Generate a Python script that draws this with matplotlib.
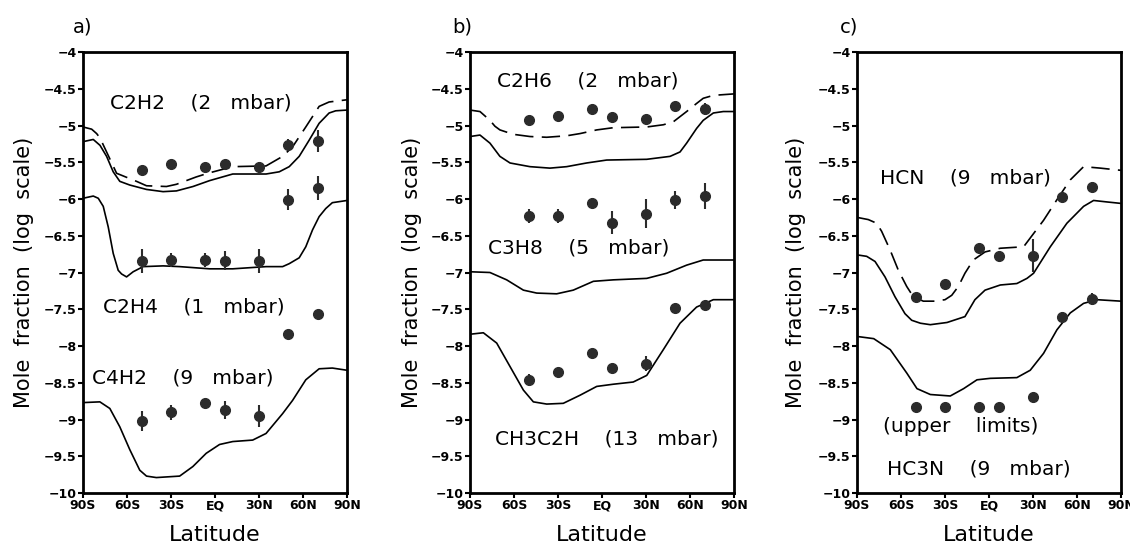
import matplotlib
matplotlib.use("Agg")
import matplotlib.pyplot as plt

# observed latitudes (same for every species)
lat_obs = [-50, -30, -7, 7, 30, 50, 70]

xticks = [-90, -60, -30, 0, 30, 60, 90]
xtick_labels = ['90S', '60S', '30S', 'EQ', '30N', '60N', '90N']
yticks = [-4, -4.5, -5, -5.5, -6, -6.5, -7, -7.5, -8, -8.5, -9, -9.5, -10]
ytick_labels = ['\u22124', '\u22124.5', '\u22125', '\u22125.5', '\u22126', '\u22126.5', '\u22127',
                '\u22127.5', '\u22128', '\u22128.5', '\u22129', '\u22129.5', '\u221210']

# ---- panel a
c2h2_obs = [-5.60, -5.53, -5.57, -5.53, -5.57, -5.27, -5.21]
c2h2_err = [0.0, 0.0, 0.05, 0.0, 0.08, 0.08, 0.15]
c2h4_obs = [-6.84, -6.83, -6.83, -6.84, -6.84, -6.01, -5.85]
c2h4_err = [0.16, 0.10, 0.10, 0.13, 0.16, 0.14, 0.16]
c4h2_obs = [-9.02, -8.90, -8.77, -8.87, -8.95, -7.83, -7.57]
c4h2_err = [0.14, 0.10, 0.0, 0.12, 0.15, 0.0, 0.0]

c2h2_lat = [-90, -83, -78.4, -73.9, -69.4, -64.9, -58.1, -46.7, -35.4, -26.3, -15, -3.7,
            12.1, 34.8, 43.8, 50.6, 57.4, 64.2, 71, 77.8, 82.3, 90]
c2h2_mod = [-5.22, -5.19, -5.27, -5.42, -5.63, -5.76, -5.81, -5.87, -5.90, -5.89, -5.83, -5.75,
            -5.66, -5.66, -5.63, -5.56, -5.42, -5.20, -4.97, -4.83, -4.80, -4.79]
c2h2_dash_lat = [-90, -84.1, -80.7, -78.4, -72.5, -67.1, -53.5, -46.7, -33.1, -26.3, -12.8, -4.9,
                 12.1, 34.8, 46.1, 52.9, 61.9, 71, 77.8, 90]
c2h2_dash = [-5.02, -5.05, -5.11, -5.17, -5.42, -5.65, -5.76, -5.82, -5.83, -5.80, -5.70, -5.65,
             -5.56, -5.55, -5.42, -5.29, -5.02, -4.74, -4.68, -4.65]
c2h4_lat = [-90, -83, -79.6, -76.2, -72.8, -69.4, -66, -63.7, -60.3, -55.8, -49, -35.4, -24.1,
            -3.7, 12.1, 34.8, 46.1, 50.6, 57.4, 61.9, 66.5, 71, 75.5, 80, 90]
c2h4_mod = [-5.99, -5.96, -5.99, -6.10, -6.38, -6.74, -6.97, -7.02, -7.06, -6.99, -6.92, -6.91, -6.92,
            -6.95, -6.95, -6.92, -6.92, -6.88, -6.80, -6.65, -6.42, -6.24, -6.13, -6.05, -6.02]
c4h2_lat = [-90, -78.5, -71.7, -64.9, -58.1, -51.3, -46.7, -40, -24.1, -15.1, -6, 3.1, 12.1,
            25.7, 34.8, 46.1, 52.9, 61.9, 71, 80, 90]
c4h2_mod = [-8.77, -8.76, -8.85, -9.10, -9.41, -9.69, -9.77, -9.79, -9.77, -9.64, -9.46, -9.34, -9.30,
            -9.28, -9.19, -8.92, -8.74, -8.46, -8.31, -8.30, -8.33]

# ---- panel b
c2h6_obs = [-4.93, -4.87, -4.78, -4.89, -4.91, -4.73, -4.78]
c2h6_err = [0.0, 0.0, 0.0, 0.0, 0.05, 0.0, 0.08]
c3h8_obs = [-6.23, -6.23, -6.05, -6.32, -6.20, -6.01, -5.96]
c3h8_err = [0.10, 0.10, 0.07, 0.15, 0.20, 0.12, 0.18]
ch3c2h_obs = [-8.46, -8.35, -8.10, -8.30, -8.24, -7.48, -7.44]
ch3c2h_err = [0.08, 0.05, 0.0, 0.06, 0.10, 0.0, 0.0]

c2h6_dash_lat = [-90, -83.2, -76.4, -73, -69.6, -60.5, -49.1, -37.7, -24.1, -15, -3.6, 7.7,
                 30.5, 41.8, 48.6, 57.7, 64.5, 69, 75.9, 90]
c2h6_dash = [-4.79, -4.81, -4.93, -5.01, -5.06, -5.12, -5.15, -5.16, -5.14, -5.11, -5.06, -5.03,
             -5.02, -4.99, -4.95, -4.81, -4.70, -4.63, -4.59, -4.57]
c2h6_lat = [-90, -83.2, -76.4, -69.6, -62.7, -49.1, -35.5, -24.1, -10.5, 3.2, 30.5, 46.4,
            53.2, 57.7, 64.5, 69, 75.9, 82.7, 90]
c2h6_mod = [-5.15, -5.13, -5.24, -5.42, -5.51, -5.56, -5.58, -5.56, -5.51, -5.47, -5.46, -5.42,
            -5.36, -5.24, -5.04, -4.93, -4.83, -4.81, -4.81]
c3h8_lat = [-90, -76.4, -65, -53.6, -44.5, -30.9, -19.6, -5.9, 7.7, 30.5, 44.1, 57.7, 69, 90]
c3h8_mod = [-6.99, -7.00, -7.10, -7.24, -7.28, -7.29, -7.24, -7.12, -7.10, -7.08, -7.01, -6.90,
            -6.83, -6.83]
ch3c2h_lat = [-90, -80.9, -71.8, -62.7, -53.6, -46.8, -37.7, -26.4, -15, -3.6, 7.7, 21.3, 30.5,
              41.8, 53.2, 64.5, 75.9, 90]
ch3c2h_mod = [-7.84, -7.82, -7.96, -8.28, -8.60, -8.76, -8.79, -8.78, -8.67, -8.55, -8.52, -8.49,
              -8.40, -8.05, -7.69, -7.47, -7.37, -7.37]

# ---- panel c
hcn_obs = [-7.33, -7.16, -6.66, -6.77, -6.77, -5.97, -5.84]
hcn_err = [0.0, 0.0, 0.0, 0.0, 0.22, 0.05, 0.07]
hc3n_obs = [-8.83, -8.83, -8.83, -8.83, -8.70, -7.61, -7.36]
hc3n_err = [0.0, 0.0, 0.0, 0.0, 0.0, 0.07, 0.08]

hcn_dash_lat = [-90, -82.3, -76.6, -73.2, -67.5, -61.8, -56.1, -51.6, -44.8, -36.8, -30, -25.4,
                -20.9, -16.4, -10.7, -2.7, 7.7, 23.6, 30.4, 37.2, 46.3, 55.4, 64.5, 75.9, 90]
hcn_dash = [-6.25, -6.28, -6.33, -6.44, -6.69, -6.97, -7.19, -7.33, -7.39, -7.39, -7.37, -7.31,
            -7.19, -7.01, -6.83, -6.72, -6.67, -6.65, -6.47, -6.29, -6.01, -5.74, -5.56, -5.58, -5.61]
hcn_lat = [-90, -83.4, -77.7, -70.9, -64.1, -57.3, -52.7, -46.8, -40, -28.6, -16.4, -9.6, -2.7,
           7.7, 19, 25.9, 30.4, 41.8, 53.1, 64.5, 71.3, 80.4, 90]
hcn_mod = [-6.76, -6.78, -6.85, -7.06, -7.33, -7.56, -7.65, -7.69, -7.71, -7.68, -7.60, -7.37, -7.24,
           -7.17, -7.15, -7.08, -7.01, -6.65, -6.33, -6.10, -6.02, -6.04, -6.06]
hc3n_lat = [-90, -78.6, -67.3, -56, -49.1, -40, -26.4, -17.3, -8.2, 0.9, 19, 28.1, 37.2, 46.3,
            55.4, 64.5, 73.6, 90]
hc3n_mod = [-7.87, -7.90, -8.05, -8.37, -8.58, -8.66, -8.68, -8.58, -8.46, -8.44, -8.43, -8.33,
            -8.10, -7.78, -7.55, -7.42, -7.37, -7.39]

dot_col = '#2b2b2b'
lab_font = 'DejaVu Sans'

fig = plt.figure(figsize=(11.3, 5.45), dpi=100)

lefts = [83, 470, 857]
ylab_x = [24, 412, 796]
letters = ['a)', 'b)', 'c)']
letter_x = [73, 452, 840]
axes = []
for i in range(3):
    ax = fig.add_axes([lefts[i] / 1130, 1 - 493 / 545, 264 / 1130, 441 / 545])
    ax.set_xlim(-90, 90)
    ax.set_ylim(-10, -4)
    ax.set_xticks(xticks)
    ax.set_xticklabels(xtick_labels, fontweight='bold', fontsize=9, family=lab_font)
    ax.set_yticks(yticks)
    ax.set_yticklabels(ytick_labels, fontweight='bold', fontsize=9, family=lab_font)
    ax.tick_params(direction='out', length=3.5, width=1.5, pad=1)
    for s in ax.spines.values():
        s.set_linewidth(2)
    fig.text(ylab_x[i] / 1130, 0.5, 'Mole  fraction  (log  scale)', rotation=90,
             ha='center', va='center', fontsize=15)
    fig.text((lefts[i] + 132) / 1130, 1 - 535 / 545, 'Latitude', ha='center', va='center', fontsize=16)
    fig.text(letter_x[i] / 1130, 1 - 27 / 545, letters[i], ha='left', va='center', fontsize=14)
    axes.append(ax)

lw = 1.2
dash = (11, 5)
eb = dict(fmt='o', color=dot_col, ms=7, elinewidth=1.5, capsize=0, zorder=3)
tfs = 14.5

# a)
ax = axes[0]
ax.plot(c2h2_lat, c2h2_mod, 'k-', lw=lw)
ax.plot(c2h2_dash_lat, c2h2_dash, 'k-', lw=lw, dashes=dash)
ax.plot(c2h4_lat, c2h4_mod, 'k-', lw=lw)
ax.plot(c4h2_lat, c4h2_mod, 'k-', lw=lw)
ax.errorbar(lat_obs, c2h2_obs, yerr=c2h2_err, **eb)
ax.errorbar(lat_obs, c2h4_obs, yerr=c2h4_err, **eb)
ax.errorbar(lat_obs, c4h2_obs, yerr=c4h2_err, **eb)
ax.text(-71.7, -4.69, 'C2H2    (2   mbar)', fontsize=tfs, va='center')
ax.text(-76.4, -7.47, 'C2H4    (1   mbar)', fontsize=tfs, va='center')
ax.text(-83.9, -8.44, 'C4H2    (9   mbar)', fontsize=tfs, va='center')

# b)
ax = axes[1]
ax.plot(c2h6_dash_lat, c2h6_dash, 'k-', lw=lw, dashes=dash)
ax.plot(c2h6_lat, c2h6_mod, 'k-', lw=lw)
ax.plot(c3h8_lat, c3h8_mod, 'k-', lw=lw)
ax.plot(ch3c2h_lat, ch3c2h_mod, 'k-', lw=lw)
ax.errorbar(lat_obs, c2h6_obs, yerr=c2h6_err, **eb)
ax.errorbar(lat_obs, c3h8_obs, yerr=c3h8_err, **eb)
ax.errorbar(lat_obs, ch3c2h_obs, yerr=ch3c2h_err, **eb)
ax.text(-71.6, -4.40, 'C2H6    (2   mbar)', fontsize=tfs, va='center')
ax.text(-77.7, -6.67, 'C3H8    (5   mbar)', fontsize=tfs, va='center')
ax.text(-73, -9.26, 'CH3C2H    (13   mbar)', fontsize=tfs, va='center')

# c)
ax = axes[2]
ax.plot(hcn_dash_lat, hcn_dash, 'k-', lw=lw, dashes=dash)
ax.plot(hcn_lat, hcn_mod, 'k-', lw=lw)
ax.plot(hc3n_lat, hc3n_mod, 'k-', lw=lw)
ax.errorbar(lat_obs, hcn_obs, yerr=hcn_err, **eb)
ax.errorbar(lat_obs, hc3n_obs, yerr=hc3n_err, **eb)
ax.text(-74.3, -5.72, 'HCN    (9   mbar)', fontsize=tfs, va='center')
ax.text(-72.3, -9.10, '(upper    limits)', fontsize=tfs, va='center')
ax.text(-69.6, -9.68, 'HC3N    (9   mbar)', fontsize=tfs, va='center')

fig.savefig('out.png', dpi=100)
